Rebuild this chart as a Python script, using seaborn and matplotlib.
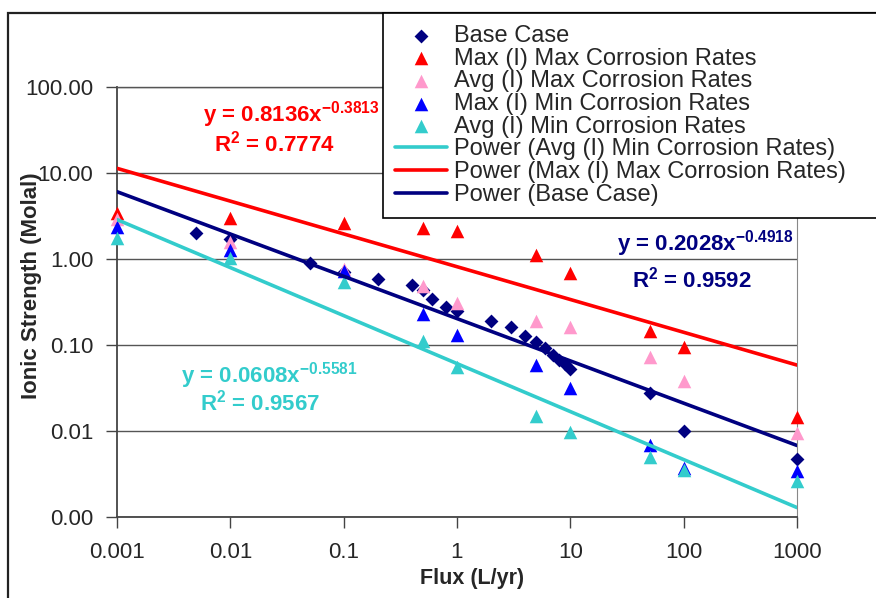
import numpy as np
import pandas as pd
import matplotlib
matplotlib.use("Agg")
import matplotlib.pyplot as plt
from matplotlib.patches import Rectangle
from matplotlib.ticker import FixedLocator, FuncFormatter, NullLocator
import seaborn as sns

# data (flux in L/yr, ionic strength in molal)
base_x = [0.005, 0.01, 0.05, 0.1, 0.2, 0.4, 0.5, 0.6, 0.8, 1, 2, 3, 4, 5, 6, 7, 8, 9, 10, 50, 100, 1000]
base_y = [2.0, 1.7, 0.9, 0.7, 0.59, 0.50, 0.44, 0.34, 0.28, 0.25, 0.19, 0.16, 0.127, 0.108, 0.092,
          0.077, 0.067, 0.060, 0.053, 0.028, 0.010, 0.0047]

tri_x = [0.001, 0.01, 0.1, 0.5, 1, 5, 10, 50, 100, 1000]
maxmax_y = [3.4, 3.0, 2.6, 2.3, 2.1, 1.1, 0.68, 0.145, 0.095, 0.0145]
avgmax_y = [2.9, 1.58, 0.77, 0.48, 0.31, 0.19, 0.16, 0.072, 0.038, 0.0095]
maxmin_y = [2.35, 1.27, 0.73, 0.23, 0.13, 0.058, 0.032, 0.0068, 0.0037, 0.0034]
avgmin_y = [1.76, 1.03, 0.54, 0.11, 0.055, 0.015, 0.0098, 0.005, 0.0035, 0.0026]

# trendline coefficients as printed on the chart: (a, b, R2) for y = a*x^b
fit_avgmin = (0.0608, -0.5581, 0.9567)
fit_maxmax = (0.8136, -0.3813, 0.7774)
fit_base = (0.2028, -0.4918, 0.9592)

x_ticks = [0.001, 0.01, 0.1, 1, 10, 100, 1000]
y_ticks = [0.001, 0.01, 0.1, 1, 10, 100]

navy = "#000080"
red = "#FF0000"
pink = "#FF99CC"
blue = "#0000FF"
cyan = "#33CCCC"

sns.set_style("ticks")
plt.rcParams["font.family"] = ["Liberation Sans", "DejaVu Sans"]
plt.rcParams["mathtext.fontset"] = "custom"
plt.rcParams["mathtext.rm"] = "Liberation Sans"
plt.rcParams["mathtext.bf"] = "Liberation Sans:bold"
plt.rcParams["mathtext.default"] = "bf"

fig = plt.figure(figsize=(8.76, 5.98), dpi=100)
ax = fig.add_axes([117 / 876, 1 - 517 / 598, 680 / 876, 430 / 598])

series = [
    ("Base Case", base_x, base_y, "D", navy, 50),
    ("Max (I) Max Corrosion Rates", tri_x, maxmax_y, "^", red, 95),
    ("Avg (I) Max Corrosion Rates", tri_x, avgmax_y, "^", pink, 95),
    ("Max (I) Min Corrosion Rates", tri_x, maxmin_y, "^", blue, 95),
    ("Avg (I) Min Corrosion Rates", tri_x, avgmin_y, "^", cyan, 95),
]
for name, xs, ys, mk, col, size in series:
    df = pd.DataFrame({"flux": xs, "ionic": ys})
    sns.scatterplot(data=df, x="flux", y="ionic", marker=mk, color=col, s=size,
                    linewidth=0, label=name, ax=ax, zorder=3, clip_on=False)

# power trendlines evaluated at the chart's x values
x_all = np.array(sorted(set(base_x) | set(tri_x)))
fits = [
    ("Power (Avg (I) Min Corrosion Rates)", fit_avgmin, cyan),
    ("Power (Max (I) Max Corrosion Rates)", fit_maxmax, red),
    ("Power (Base Case)", fit_base, navy),
]
for name, (a, b, r2), col in fits:
    df = pd.DataFrame({"flux": x_all, "ionic": a * x_all ** b})
    sns.lineplot(data=df, x="flux", y="ionic", color=col, linewidth=2.6,
                 label=name, ax=ax, zorder=4, sort=True)

ax.set_xscale("log")
ax.set_yscale("log")
ax.set_xlim(0.001, 1000)
ax.set_ylim(0.001, 100)
ax.xaxis.set_major_locator(FixedLocator(x_ticks))
ax.yaxis.set_major_locator(FixedLocator(y_ticks))
ax.xaxis.set_minor_locator(NullLocator())
ax.yaxis.set_minor_locator(NullLocator())
ax.xaxis.set_major_formatter(FuncFormatter(lambda v, p: f"{v:g}"))
ax.yaxis.set_major_formatter(FuncFormatter(lambda v, p: f"{v:.2f}"))
ax.tick_params(axis="both", direction="out", length=8, width=1, color="#444444",
               labelsize=16, pad=9)
ax.tick_params(axis="x", pad=10)
ax.grid(axis="y", color="#555555", linewidth=1)
ax.grid(axis="x", visible=False)
for side in ["left", "bottom"]:
    ax.spines[side].set_color("#444444")
    ax.spines[side].set_linewidth(1.3)
ax.spines["right"].set_color("#888888")
ax.spines["top"].set_color("#555555")
ax.spines["top"].set_linewidth(1)

ax.set_xlabel("Flux (L/yr)", fontsize=15.5, fontweight="bold")
ax.set_ylabel("Ionic Strength (Molal)", fontsize=16, fontweight="bold")
ax.xaxis.set_label_coords(0.522, -0.118)
ax.yaxis.set_label_coords(-0.11, 0.537)

# trendline equations
eq_kw = dict(transform=ax.transAxes, fontsize=16, fontweight="bold", ha="center", va="center")
ax.text(0.256, 0.935, "y = 0.8136x$^{-0.3813}$", color=red, **eq_kw)
ax.text(0.232, 0.868, "R$^{2}$ = 0.7774", color=red, **eq_kw)
ax.text(0.865, 0.636, "y = 0.2028x$^{-0.4918}$", color=navy, **eq_kw)
ax.text(0.846, 0.552, "R$^{2}$ = 0.9592", color=navy, **eq_kw)
ax.text(0.224, 0.330, "y = 0.0608x$^{-0.5581}$", color=cyan, **eq_kw)
ax.text(0.210, 0.267, "R$^{2}$ = 0.9567", color=cyan, **eq_kw)

handles, labels = ax.get_legend_handles_labels()
ax.get_legend().remove()
leg = fig.legend(handles, labels, loc="upper left",
                 bbox_to_anchor=(383 / 876, 0.5, 0.6, 1 - 13 / 598 - 0.5),
                 mode="expand", fontsize=17, frameon=True, fancybox=False,
                 edgecolor="black", framealpha=1, borderpad=0.5, labelspacing=0.03,
                 handlelength=2.2, handletextpad=0.3, borderaxespad=0, scatterpoints=1)
leg.get_frame().set_linewidth(1.2)
leg.set_zorder(10)

# outer chart border
fig.patches.append(Rectangle((8 / 876, -0.05), 1.0, 1 - 13 / 598 + 0.05,
                             transform=fig.transFigure, fill=False,
                             edgecolor="#222222", linewidth=1.6, zorder=0))

fig.savefig("out.png", dpi=100)
